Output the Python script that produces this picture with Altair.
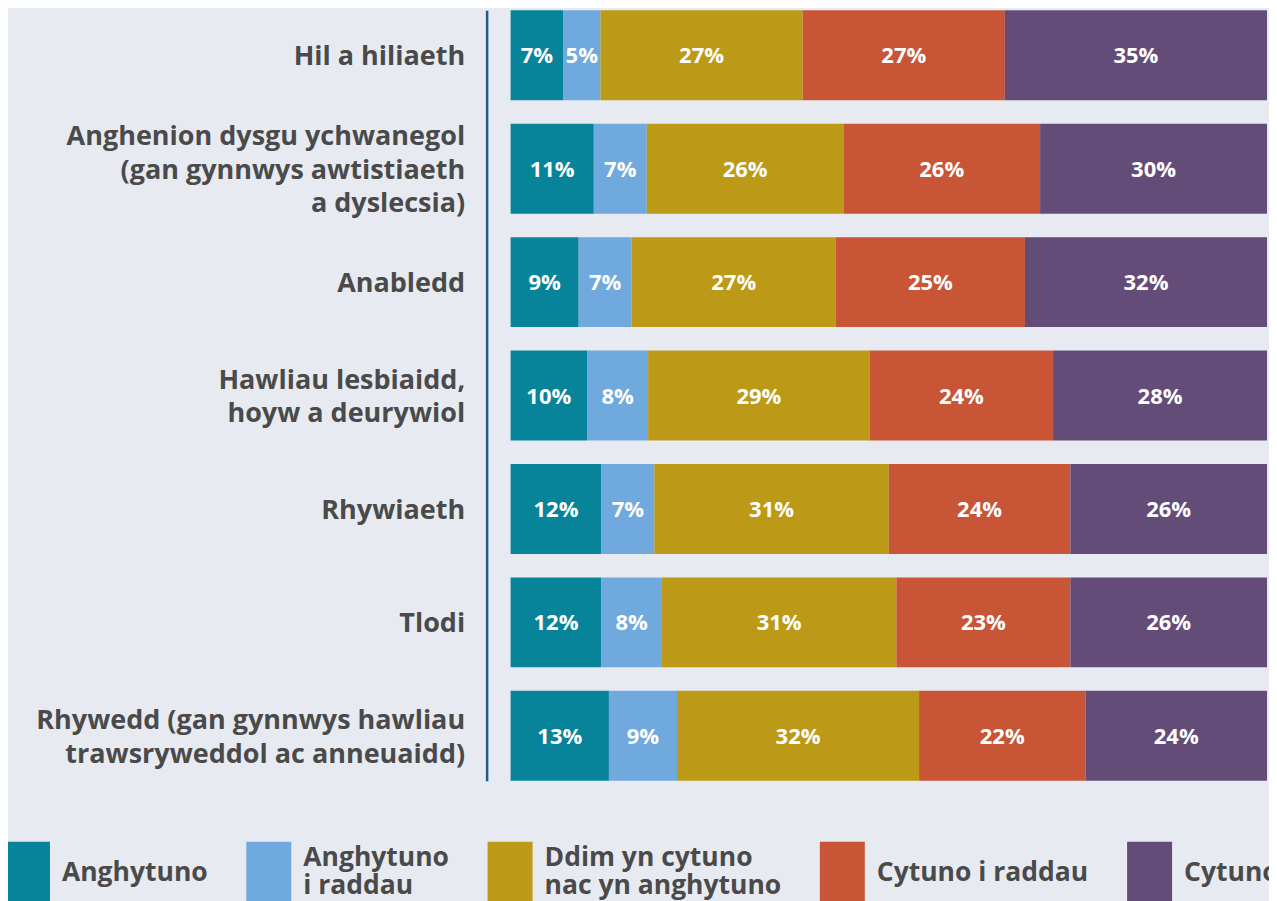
import altair as alt
import pandas as pd

rows = [
    "Hil a hiliaeth",
    "Anghenion dysgu ychwanegol|(gan gynnwys awtistiaeth|a dyslecsia)",
    "Anabledd",
    "Hawliau lesbiaidd,|hoyw a deurywiol",
    "Rhywiaeth",
    "Tlodi",
    "Rhywedd (gan gynnwys hawliau|trawsryweddol ac anneuaidd)",
]
responses = [
    "Anghytuno",
    "Anghytuno i raddau",
    "Ddim yn cytuno nac yn anghytuno",
    "Cytuno i raddau",
    "Cytuno",
]
legend_lines = {
    "Anghytuno": ["Anghytuno"],
    "Anghytuno i raddau": ["Anghytuno", "i raddau"],
    "Ddim yn cytuno nac yn anghytuno": ["Ddim yn cytuno", "nac yn anghytuno"],
    "Cytuno i raddau": ["Cytuno i raddau"],
    "Cytuno": ["Cytuno"],
}
colors = ["#07839a", "#6fa9dd", "#bc9916", "#c85536", "#644c78"]

anghytuno = [7, 11, 9, 10, 12, 12, 13]
anghytuno_i_raddau = [5, 7, 7, 8, 7, 8, 9]
ddim = [27, 26, 27, 29, 31, 31, 32]
cytuno_i_raddau = [27, 26, 25, 24, 24, 23, 22]
cytuno = [35, 30, 32, 28, 26, 26, 24]

series = [anghytuno, anghytuno_i_raddau, ddim, cytuno_i_raddau, cytuno]

records = []
for ri, r in enumerate(rows):
    for si, s in enumerate(responses):
        records.append({"row": r, "resp": s, "order": si, "value": series[si][ri]})
df = pd.DataFrame(records)

font = "Open Sans"
text_color = "#4a4a4a"

expr_parts = []
for k, v in legend_lines.items():
    arr = "[" + ",".join("'" + x + "'" for x in v) + "]"
    expr_parts.append(f"datum.label == '{k}' ? {arr} : ")
legend_expr = "".join(expr_parts) + "datum.label"
multi = [k for k, v in legend_lines.items() if len(v) > 1]
multi_arr = "[" + ",".join("'" + m + "'" for m in multi) + "]"
baseline_expr = f"indexof({multi_arr}, datum.value) >= 0 ? 'line-bottom' : 'middle'"

base = alt.Chart(df).transform_stack(
    stack="value",
    groupby=["row"],
    as_=["v0", "v1"],
    offset="normalize",
    sort=[alt.SortField("order", order="ascending")],
).transform_calculate(mid="(datum.v0 + datum.v1) / 2")

yenc = alt.Y(
    "row:N",
    sort=rows,
    scale=alt.Scale(paddingInner=0.207, paddingOuter=0),
    axis=alt.Axis(
        title=None,
        labelExpr="split(datum.label, '|')",
        labelFont=font,
        labelFontSize=27,
        labelFontWeight="bold",
        labelColor=text_color,
        labelLineHeight=33.5,
        labelPadding=22,
        labelLimit=600,
        labelOffset={
            "condition": [
                {"test": "length(split(datum.value, '|')) == 3", "value": -31.5},
                {"test": "length(split(datum.value, '|')) == 2", "value": -14.75},
            ],
            "value": 2,
        },
        ticks=False,
        grid=False,
        domainColor="#1f5b8b",
        domainWidth=2.5,
        offset=24,
    ),
)

bars = base.mark_bar().encode(
    y=yenc,
    x=alt.X("v0:Q", axis=None, scale=alt.Scale(domain=[0, 1])),
    x2="v1:Q",
    color=alt.Color(
        "resp:N",
        scale=alt.Scale(domain=responses, range=colors),
        title=None,
        legend=alt.Legend(
            orient="none",
            legendX=-514.5,
            legendY=832,
            padding=0,
            direction="horizontal",
            columns=5,
            symbolType="M-0.726,-1H0.726V1H-0.726Z",
            symbolSize=3844,
            symbolStrokeWidth=0,
            symbolOpacity=1,
            labelExpr=legend_expr,
            labelBaseline={"expr": baseline_expr},
            labelFont=font,
            labelFontSize=26.5,
            labelFontWeight="bold",
            labelColor=text_color,
            labelOffset=3.5,
            labelLimit=600,
            columnPadding=29.5,
        ),
    ),
)

labels = base.mark_text(
    color="white", font=font, fontSize=22, fontWeight="bold", dy=1
).encode(
    y=alt.Y("row:N", sort=rows),
    x=alt.X("mid:Q"),
    text=alt.Text("label:N"),
).transform_calculate(label="datum.value + '%'")

chart = (
    alt.layer(bars, labels)
    .properties(
        width=757,
        height=771,
        background="#e8eaf2",
        padding={"left": 503, "top": 2, "right": 2, "bottom": 140},
        autosize=alt.AutoSizeParams(type="none"),
    )
    .configure_view(stroke=None)
)

chart.save("out.html", embed_options={"renderer": "svg", "actions": False})
